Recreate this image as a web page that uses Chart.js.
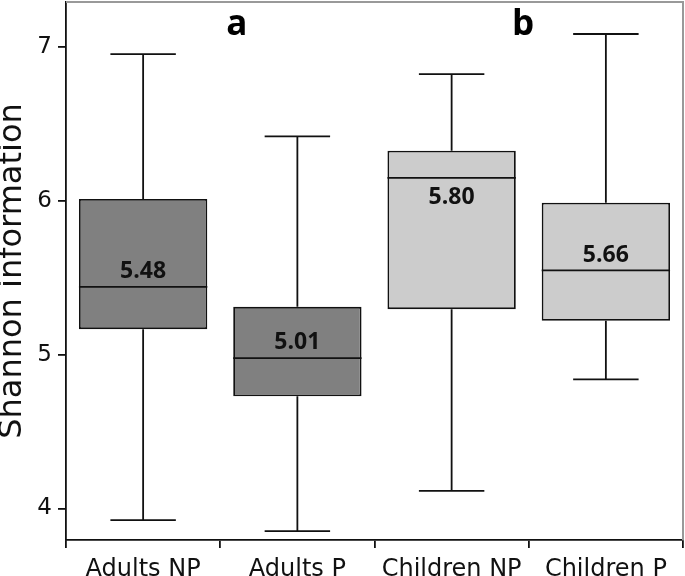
<!DOCTYPE html>
<html><head><meta charset="utf-8">
<script src="https://cdn.jsdelivr.net/npm/chart.js@4"></script>
<style>html,body{margin:0;padding:0;background:#fff}canvas{display:block}</style>
</head><body>
<canvas id="c" width="685" height="576"></canvas>
<script>
const categories = ["Adults NP", "Adults P", "Children NP", "Children P"];
const whiskerLow = [3.924, 3.853, 4.115, 4.839];
const q1 = [5.166, 4.729, 5.296, 5.220];
const median = [5.441, 4.978, 6.150, 5.548];
const q3 = [6.012, 5.311, 6.326, 5.988];
const whiskerHigh = [6.954, 6.419, 6.824, 7.085];
const meanLabels = ["5.48", "5.01", "5.80", "5.66"];
const meanLabelPos = [5.539, 5.082, 6.021, 5.643];
const boxColors = ["#808080", "#808080", "#cccccc", "#cccccc"];
const groupLetters = ["a", "b"];
const groupLetterPos = [0.607, 2.463];
const yTicks = [4, 5, 6, 7];

const boxPlugin = {
  id: 'boxExtras',
  afterDatasetsDraw(chart) {
    const ctx = chart.ctx, x = chart.scales.x, y = chart.scales.y;
    const meta = chart.getDatasetMeta(0);
    ctx.save();
    ctx.strokeStyle = '#111';
    ctx.lineWidth = 1.8;
    meta.data.forEach((bar, i) => {
      const cx = bar.x, w = bar.width;
      const capHalf = w * 0.255, half = w / 2;
      const yl = y.getPixelForValue(whiskerLow[i]), yh = y.getPixelForValue(whiskerHigh[i]);
      const y1 = y.getPixelForValue(q1[i]), y3 = y.getPixelForValue(q3[i]);
      const ym = y.getPixelForValue(median[i]);
      ctx.beginPath();
      ctx.moveTo(cx, y3); ctx.lineTo(cx, yh);
      ctx.moveTo(cx - capHalf, yh); ctx.lineTo(cx + capHalf, yh);
      ctx.moveTo(cx, y1); ctx.lineTo(cx, yl);
      ctx.moveTo(cx - capHalf, yl); ctx.lineTo(cx + capHalf, yl);
      ctx.moveTo(cx - half, ym); ctx.lineTo(cx + half, ym);
      ctx.stroke();
      ctx.fillStyle = '#111';
      ctx.font = 'bold 23px "Open Sans", "DejaVu Sans", sans-serif';
      ctx.textAlign = 'center';
      ctx.textBaseline = 'middle';
      ctx.fillText(meanLabels[i], cx, y.getPixelForValue(meanLabelPos[i]));
    });
    ctx.font = 'bold 35px "Open Sans", "DejaVu Sans", sans-serif';
    ctx.fillStyle = '#000';
    ctx.textBaseline = 'alphabetic';
    groupLetters.forEach((t, i) => {
      ctx.fillText(t, x.getPixelForValue(groupLetterPos[i]), chart.chartArea.top + 33);
    });
    const a = chart.chartArea;
    ctx.strokeStyle = '#999';
    ctx.lineWidth = 2;
    ctx.beginPath();
    ctx.moveTo(a.left, a.top); ctx.lineTo(a.right, a.top); ctx.lineTo(a.right, a.bottom);
    ctx.stroke();
    ctx.restore();
  }
};

new Chart(document.getElementById('c'), {
  type: 'bar',
  data: {
    labels: categories,
    datasets: [{
      data: q1.map((v, i) => [v, q3[i]]),
      backgroundColor: boxColors,
      borderColor: '#111',
      borderWidth: 1.8,
      borderSkipped: false,
      categoryPercentage: 1,
      barPercentage: 0.832
    }]
  },
  options: {
    responsive: false,
    animation: false,
    layout: { padding: { top: 2, right: 2, bottom: 0, left: 0 } },
    plugins: { legend: { display: false }, tooltip: { enabled: false } },
    scales: {
      x: {
        offset: true,
        afterFit: (s) => { s.height = 36; s.paddingLeft = 0; s.paddingRight = 0; s.paddingTop = 0; s.paddingBottom = 0; },
        grid: { display: true, offset: true, drawOnChartArea: false, tickLength: 8, color: '#111', lineWidth: 1.8 },
        border: { display: true, color: '#111', width: 1.8 },
        ticks: { color: '#111', font: { family: 'DejaVu Sans', size: 24 }, padding: 7, maxRotation: 0, autoSkip: false }
      },
      y: {
        min: 3.795, max: 7.293,
        afterBuildTicks: (s) => { s.ticks = yTicks.map(v => ({ value: v })); },
        afterFit: (s) => { s.width = 66; s.paddingTop = 0; s.paddingBottom = 0; s.paddingLeft = 0; s.paddingRight = 0; },
        grid: { display: true, drawOnChartArea: false, tickLength: 8, color: '#111', lineWidth: 1.8 },
        border: { display: true, color: '#111', width: 1.8 },
        ticks: { color: '#111', font: { family: 'DejaVu Sans', size: 23 }, padding: 6 },
        title: { display: true, text: 'Shannon information', color: '#111', font: { family: 'DejaVu Sans', size: 32, lineHeight: 0.8 }, padding: { top: 0, bottom: 0 } }
      }
    }
  },
  plugins: [boxPlugin]
});
</script>
</body></html>
